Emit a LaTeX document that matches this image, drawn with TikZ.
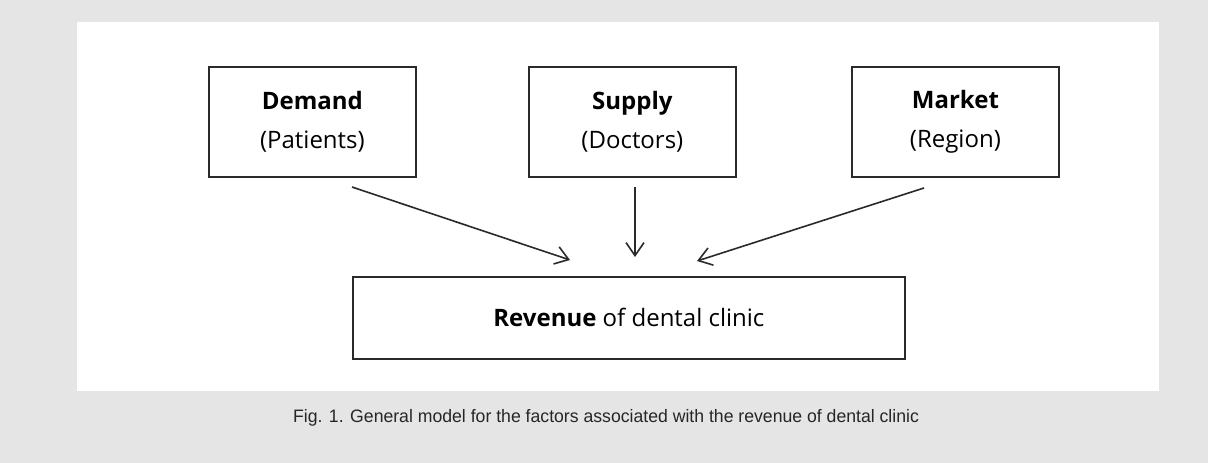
\documentclass[tikz,border=0pt]{standalone}
\usepackage{fontspec}
\setmainfont{Open Sans}
\newfontfamily\capfont{Liberation Sans}
\usetikzlibrary{arrows.meta}
\definecolor{bggray}{HTML}{E5E5E5}
\definecolor{linegray}{HTML}{2A2A2A}
\begin{document}
\begin{tikzpicture}[x=1pt,y=-1pt,
  factor/.style={draw=linegray, line width=1.8pt, minimum width=207pt, minimum height=110pt, anchor=north west, inner sep=0pt, align=center, font=\fontsize{24}{39}\selectfont},
  conn/.style={draw=linegray, line width=1.6pt, -{Straight Barb[length=13pt,width=18pt,line width=1.6pt]}}]
\fill[bggray] (0,0) rectangle (1208,463);
\useasboundingbox (0,0) rectangle (1208,463);
\fill[white] (77,22) rectangle (1159,391);
\node[factor] (demand) at (208,66) {\textbf{Demand}\\(Patients)};
\node[factor] (supply) at (528,66) {\textbf{Supply}\\(Doctors)};
\node[factor] (market) at (851,66) {\textbf{Market}\\(Region)};
\node[factor, minimum width=552pt, minimum height=82pt] (revenue) at (352,276) {\textbf{Revenue} of dental clinic};
\coordinate (a1) at (352,187);
\coordinate (a2) at (570,260);
\coordinate (b1) at (635,187);
\coordinate (b2) at (635,257);
\coordinate (c1) at (924,188);
\coordinate (c2) at (697,261);
\draw[conn] (a1) -- (a2);
\draw[conn] (b1) -- (b2);
\draw[conn] (c1) -- (c2);
\node[font=\capfont\fontsize{18}{20}\selectfont, xscale=0.98, transform shape, text=black!85] (cap) at (606,418) {Fig. 1. General model for the factors associated with the revenue of dental clinic};
\end{tikzpicture}
\end{document}
